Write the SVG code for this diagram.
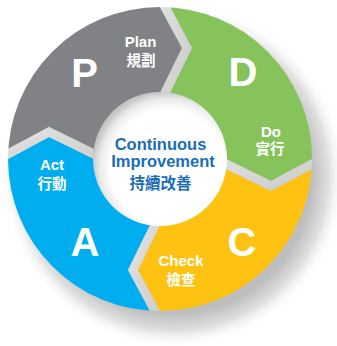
<svg xmlns="http://www.w3.org/2000/svg" width="337" height="346" viewBox="0 0 337 346">
  <style>
    .big { font-family: "Liberation Sans", Arial, sans-serif; font-weight: bold; font-size: 40px; fill: #ffffff; text-anchor: middle; }
    .lbl { font-family: "Liberation Sans", Arial, sans-serif; font-weight: bold; font-size: 15px; fill: #ffffff; text-anchor: middle; }
    .cjk { font-family: "Liberation Sans", "Noto Sans CJK TC", sans-serif; font-weight: bold; font-size: 14.5px; fill: #ffffff; text-anchor: middle; }
    .ctr { font-family: "Liberation Sans", Arial, sans-serif; font-weight: bold; font-size: 16.5px; fill: #1b6db6; text-anchor: middle; }
    .ctrcjk { font-family: "Liberation Sans", "Noto Sans CJK TC", sans-serif; font-weight: bold; font-size: 15.5px; fill: #1b6db6; text-anchor: middle; }
    .bevel { fill: url(#bevelGrad); }
  </style>
  <defs>
    <radialGradient id="shadowGrad" gradientUnits="userSpaceOnUse" cx="174" cy="176" r="172">
      <stop offset="0" stop-color="#b4b4b4"/>
      <stop offset="0.8" stop-color="#bebebe"/>
      <stop offset="0.9" stop-color="#e0e0e0"/>
      <stop offset="1" stop-color="#ffffff" stop-opacity="0"/>
    </radialGradient>
    <radialGradient id="discGrad" gradientUnits="userSpaceOnUse" cx="168" cy="167" r="76">
      <stop offset="0" stop-color="#ffffff"/>
      <stop offset="0.76" stop-color="#ffffff"/>
      <stop offset="0.9" stop-color="#eaeaea"/>
      <stop offset="1" stop-color="#c4c4c4"/>
    </radialGradient>
    <linearGradient id="bevelGrad" x1="0" y1="0" x2="1" y2="1">
      <stop offset="0" stop-color="#e6e6e6"/>
      <stop offset="1" stop-color="#c8c8c8"/>
    </linearGradient>
    <clipPath id="ringClip">
      <circle cx="0" cy="0" r="152"/>
    </clipPath>
  </defs>

  <rect width="337" height="346" fill="#ffffff"/>
  <circle id="shadow" cx="174" cy="176" r="172" fill="url(#shadowGrad)"/>

  <g transform="translate(160,159)">
    <g clip-path="url(#ringClip)">
      <g id="seg-plan">
        <polygon fill="#818286" points="-172.5,1 -111,-32 -43.5,1 0,0 -11,-43.5 22,-111 -11,-172.5 -11,-200 -200,-200 -200,1"/>
      </g>
      <g id="seg-do">
        <polygon fill="#86c35b" points="-1,-200 -1,-172.5 32,-111 -1,-43.5 0,0 43.5,-11 111,22 172.5,-11 200,-11 200,-200"/>
      </g>
      <g id="seg-check">
        <polygon fill="#fec312" points="200,-1 172.5,-1 111,32 43.5,-1 0,0 11,43.5 -22,111 11,172.5 11,200 200,200"/>
      </g>
      <g id="seg-act">
        <polygon fill="#00aeef" points="1,200 1,172.5 -32,111 1,43.5 0,0 -43.5,11 -111,-22 -172.5,11 -200,11 -200,200"/>
      </g>
      <g id="arrows">
        <polygon class="bevel" points="-11,-172.5 22,-111 -11,-43.5 -1,-43.5 32,-111 -1,-172.5"/>
        <polygon class="bevel" points="172.5,-11 111,22 43.5,-11 43.5,-1 111,32 172.5,-1"/>
        <polygon class="bevel" points="11,172.5 -22,111 11,43.5 1,43.5 -32,111 1,172.5"/>
        <polygon class="bevel" points="-172.5,11 -111,-22 -43.5,11 -43.5,1 -111,-32 -172.5,1"/>
      </g>
    </g>
  </g>

  <g id="center">
    <circle cx="160" cy="159" r="67" fill="url(#discGrad)"/>
    <text class="ctr" x="160.5" y="150">Continuous</text>
    <text class="ctr" x="163" y="167">Improvement</text>
    <text class="ctrcjk" x="160.5" y="189">持續改善</text>
  </g>

  <g id="label-plan">
    <text class="big" x="84.5" y="87">P</text>
    <text class="lbl" x="140.5" y="47">Plan</text>
    <text class="cjk" x="141" y="66">規劃</text>
  </g>
  <g id="label-do">
    <text class="big" x="243" y="86">D</text>
    <text class="lbl" x="271" y="137">Do</text>
    <text class="cjk" x="270" y="154">實行</text>
  </g>
  <g id="label-check">
    <text class="big" x="242" y="256">C</text>
    <text class="lbl" x="181" y="266">Check</text>
    <text class="cjk" x="181" y="285">檢查</text>
  </g>
  <g id="label-act">
    <text class="big" x="85" y="256">A</text>
    <text class="lbl" x="52" y="170">Act</text>
    <text class="cjk" x="52" y="189">行動</text>
  </g>
</svg>
